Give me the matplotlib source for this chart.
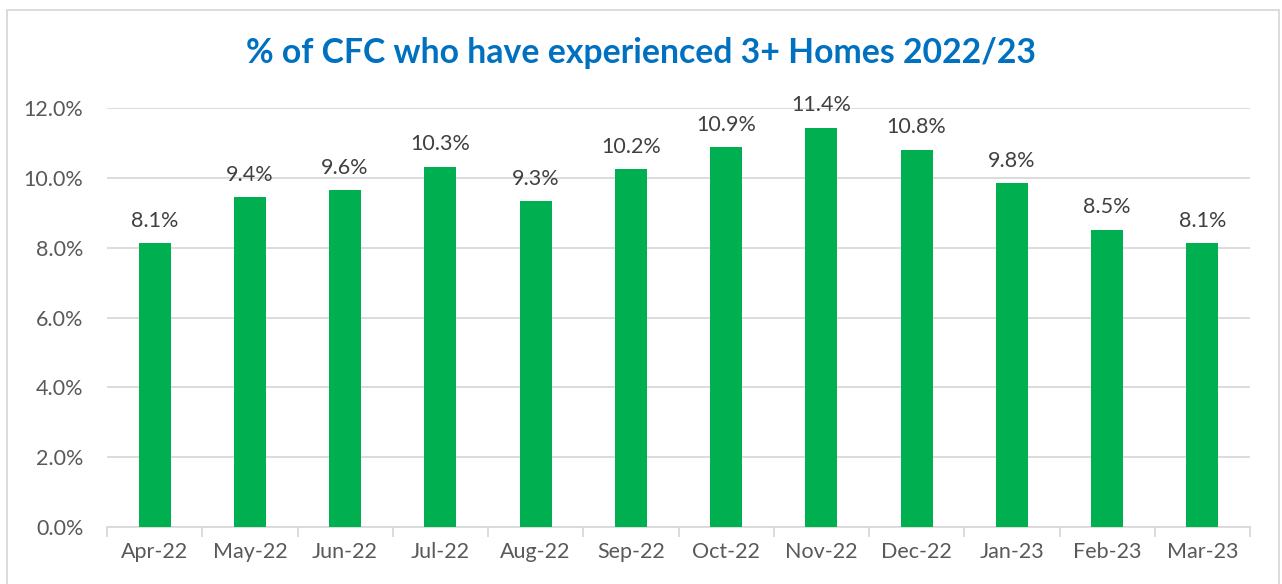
import matplotlib
matplotlib.use("Agg")
import matplotlib.pyplot as plt
from matplotlib.patches import Rectangle
from matplotlib.ticker import FuncFormatter, FixedLocator

months = ["Apr-22", "May-22", "Jun-22", "Jul-22", "Aug-22", "Sep-22",
          "Oct-22", "Nov-22", "Dec-22", "Jan-23", "Feb-23", "Mar-23"]
values = [8.14, 9.44, 9.64, 10.32, 9.34, 10.24, 10.87, 11.44, 10.81, 9.84, 8.52, 8.14]
title = "% of CFC who have experienced 3+ Homes 2022/23"

plt.rcParams['font.family'] = ['Lato', 'DejaVu Sans']

fig = plt.figure(figsize=(12.82, 5.84), dpi=100)
ax = fig.add_axes([107/1282, 1-527/584, (1250-107)/1282, (527-108)/584])

x = list(range(len(months)))
bars = ax.bar(x, values, width=0.335, color="#00B050", zorder=3)

ax.set_ylim(0, 12)
ax.set_xlim(-0.5, len(months)-0.5)
ax.set_yticks([0, 2, 4, 6, 8, 10, 12])
ax.yaxis.set_major_formatter(FuncFormatter(lambda v, p: f"{v:.1f}%"))
ax.grid(axis='y', color="#D9D9D9", linewidth=1.3, zorder=0)
ax.set_axisbelow(True)

for s in ['top', 'right', 'left']:
    ax.spines[s].set_visible(False)
ax.spines['bottom'].set_color("#D9D9D9")
ax.spines['bottom'].set_linewidth(1.3)

ax.set_xticks(x)
ax.set_xticklabels(months)
ax.xaxis.set_minor_locator(FixedLocator([i - 0.5 for i in range(len(months)+1)]))
ax.tick_params(axis='x', which='major', length=0, pad=11, labelsize=15.5, labelcolor="#595959")
ax.tick_params(axis='x', which='minor', length=7, width=1.3, color="#D9D9D9")
ax.tick_params(axis='y', length=0, pad=17, labelsize=15.5, labelcolor="#595959")

for xi, v in zip(x, values):
    ax.text(xi, v + 0.35, f"{v:.1f}%", ha='center', va='bottom', fontsize=15.5, color="#404040")

fig.text(641/1282, 1-53/584, title, ha='center', va='center', fontsize=24.3,
         fontweight='bold', color="#0070C0")

border = Rectangle((7/1282, -0.05), (1279-7)/1282, 1-10/584+0.05, transform=fig.transFigure,
                   fill=False, edgecolor="#D9D9D9", linewidth=1.3)
fig.patches.append(border)

fig.savefig("out.png", dpi=100)
